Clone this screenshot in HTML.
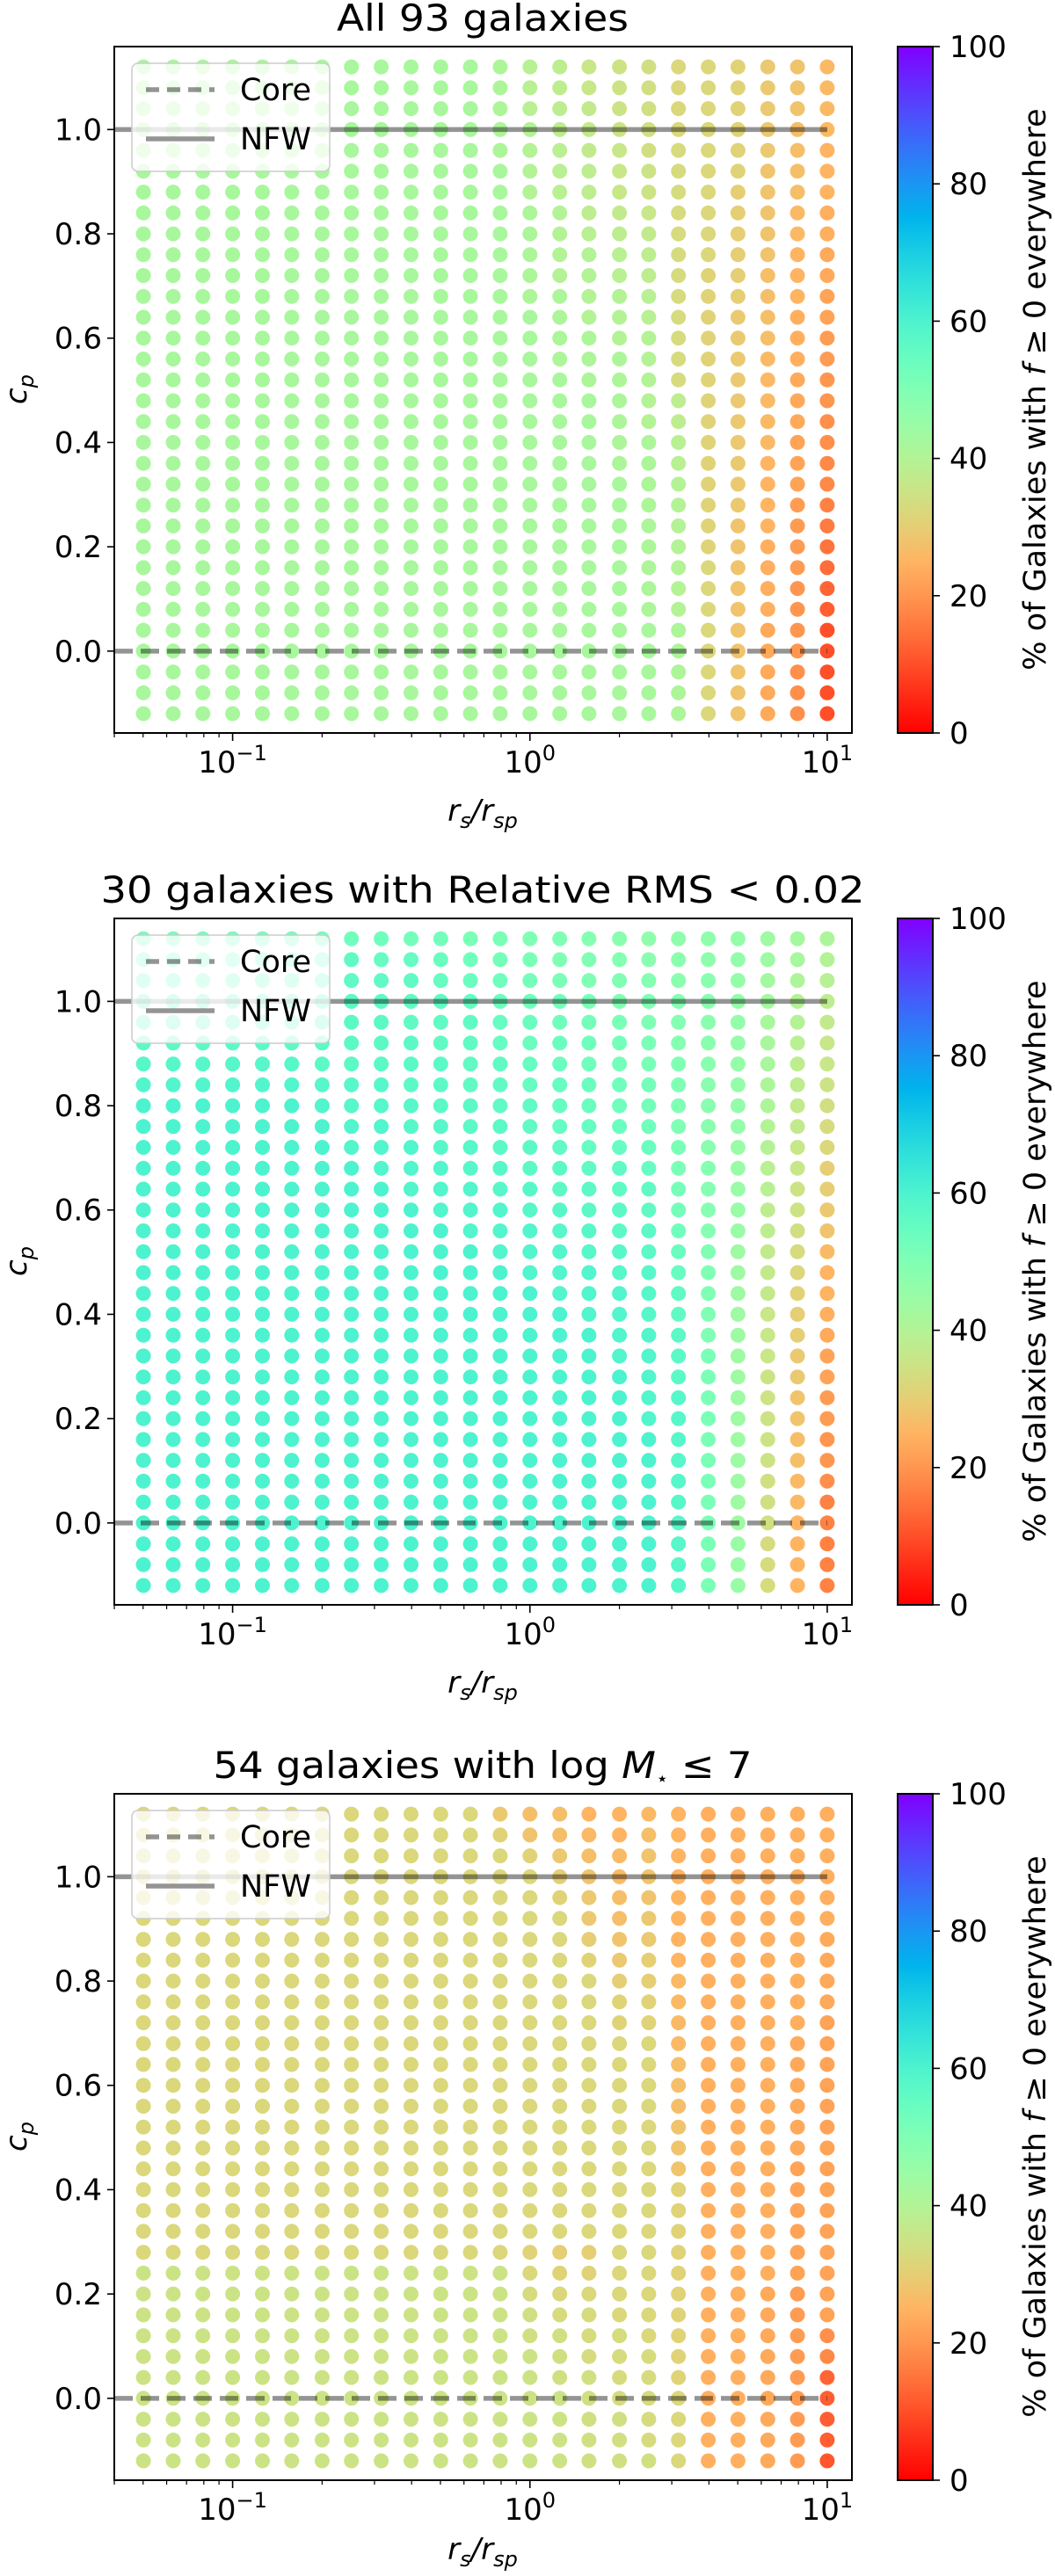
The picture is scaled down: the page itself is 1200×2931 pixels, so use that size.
<!DOCTYPE html>
<html><head><meta charset="utf-8"><style>
html,body{margin:0;padding:0;background:#fff;}
svg{display:block;font-family:"DejaVu Sans","Liberation Sans",sans-serif;}
</style></head><body>
<svg id="fig" width="1200" height="2931" viewBox="0 0 1200 2931" xmlns="http://www.w3.org/2000/svg">
<defs>
<linearGradient id="cbgrad" x1="0" y1="1" x2="0" y2="0"></linearGradient>
</defs>
</svg>
<script>
// ---- data ----
const xValues = [0.0501,0.0631,0.0794,0.1,0.126,0.158,0.2,0.251,0.316,0.398,0.501,0.631,0.794,1.0,1.26,1.58,2.0,2.51,3.16,3.98,5.01,6.31,7.94,10.0];
const cpValues = [1.12,1.08,1.04,1.0,0.96,0.92,0.88,0.84,0.80,0.76,0.72,0.68,0.64,0.60,0.56,0.52,0.48,0.44,0.40,0.36,0.32,0.28,0.24,0.20,0.16,0.12,0.08,0.04,0.0,-0.04,-0.08,-0.12];
const yTicks = [0.0,0.2,0.4,0.6,0.8,1.0];
const yTickLabels = ["0.0","0.2","0.4","0.6","0.8","1.0"];
const xTicks = [0.1,1,10];
const xTickExp = ["\u22121","0","1"];
const cbTicks = [0,20,40,60,80,100];
const titles = ["All 93 galaxies","30 galaxies with Relative  RMS < 0.02","54 galaxies with log M\u22c6 \u2264 7"];

const valsAll = [
[42,42,42,42,42,42,42,42,42,42,42,42,41,39,38,36,35,34,32,32,31,29,28,26],
[42,42,42,42,42,42,42,42,42,42,42,42,41,39,38,36,35,34,32,32,31,29,28,26],
[42,42,42,42,42,42,42,42,42,42,42,42,41,39,38,37,35,34,32,32,31,29,28,26],
[42,42,42,42,42,42,42,42,42,42,42,42,41,40,38,37,35,34,32,32,31,29,27,26],
[42,42,42,42,42,42,42,42,42,42,42,42,41,40,39,37,36,34,33,32,31,29,27,25],
[42,42,42,42,42,42,42,42,42,42,42,42,42,40,39,38,36,35,33,32,31,28,27,25],
[42,42,42,42,42,42,42,42,42,42,42,42,42,40,39,38,36,35,33,32,30,28,27,25],
[42,42,42,42,42,42,42,42,42,42,42,42,42,41,40,38,37,36,33,32,30,28,26,24],
[42,42,42,42,42,42,42,42,42,42,42,42,42,41,40,39,38,37,33,32,30,28,26,24],
[42,42,42,42,42,42,42,42,42,42,42,42,42,41,40,40,39,38,33,32,30,28,25,23],
[42,42,42,42,42,42,42,42,42,42,42,42,42,41,40,40,39,38,33,31,30,27,25,23],
[42,42,42,42,42,42,42,42,42,42,42,42,42,41,41,40,40,39,33,31,30,27,25,22],
[42,42,42,42,42,42,42,42,42,42,42,42,42,42,41,40,40,39,33,31,29,27,24,22],
[42,42,42,42,42,42,42,42,42,42,42,42,42,42,41,41,40,40,33,31,29,27,24,21],
[42,42,42,42,42,42,42,42,42,42,42,42,42,42,41,41,41,40,33,31,29,26,24,21],
[42,42,42,42,42,42,42,42,42,42,42,42,42,42,42,41,41,40,33,31,29,26,23,20],
[42,42,42,42,42,42,42,42,42,42,42,42,42,42,42,42,41,40,38,31,29,26,23,20],
[42,42,42,42,42,42,42,42,42,42,42,42,42,42,42,42,41,40,38,31,29,26,23,19],
[42,42,42,42,42,42,42,42,42,42,42,42,42,42,42,42,41,41,39,31,29,26,22,19],
[42,42,42,42,42,42,42,42,42,42,42,42,42,42,42,42,41,41,39,31,29,25,22,18],
[42,42,42,42,42,42,42,42,42,42,42,42,42,42,42,42,42,41,40,31,29,25,22,18],
[42,42,42,42,42,42,42,42,42,42,42,42,42,42,42,42,42,41,40,31,29,25,21,17],
[42,42,42,42,42,42,42,42,42,42,42,42,42,42,42,42,42,41,40,31,28,25,21,16],
[42,42,42,42,42,42,42,42,42,42,42,42,42,42,42,42,42,41,40,31,28,24,21,15],
[42,42,42,42,42,42,42,42,42,42,42,42,42,42,42,42,42,41,40,32,28,24,21,14],
[42,42,42,42,42,42,42,42,42,42,42,42,42,42,42,42,42,41,40,32,28,24,20,13],
[42,42,42,42,42,42,42,42,42,42,42,42,42,42,42,42,42,41,40,32,28,24,20,12],
[42,42,42,42,42,42,42,42,42,42,42,42,42,42,42,42,42,42,41,32,28,23,20,10],
[42,42,42,42,42,42,42,42,42,42,42,42,42,42,42,42,42,42,41,32,28,23,20,10],
[42,42,42,42,42,42,42,42,42,42,42,42,42,42,42,42,42,42,41,32,28,23,19,10],
[42,42,42,42,42,42,42,42,42,42,42,42,42,42,42,42,42,42,41,32,28,23,19,10],
[42,42,42,42,42,42,42,42,42,42,42,42,42,42,42,42,42,42,41,32,28,23,19,10]
];
const valsRms = [
[52,52,52,52,52,52,52,53,53,52,52,51,51,50,50,49,48,47,47,47,46,44,43,41],
[54,54,54,54,54,54,54,56,55,55,54,53,52,51,50,50,49,48,48,47,46,44,42,40],
[55,55,55,55,55,55,55,56,56,56,55,54,53,52,51,50,50,49,48,48,46,43,41,39],
[56,56,56,56,56,56,56,57,56,56,56,55,54,53,52,51,50,50,49,48,46,43,40,38],
[56,56,56,56,56,56,56,57,57,56,56,56,55,54,53,52,51,50,49,48,46,42,40,37],
[57,57,57,57,57,57,57,57,57,57,56,56,55,54,54,53,52,51,49,48,46,42,39,36],
[58,58,58,58,58,58,57,57,57,57,57,56,56,55,54,53,52,51,50,48,46,42,38,36],
[59,59,59,59,59,59,58,58,58,57,57,56,56,55,55,54,53,52,50,48,46,41,38,35],
[60,60,60,60,60,60,59,58,58,58,57,57,56,56,55,54,53,52,50,48,46,41,37,34],
[60,60,60,60,60,60,60,59,59,58,58,57,57,56,55,55,54,53,50,48,46,40,37,33],
[60,60,60,60,60,60,60,59,59,59,58,58,57,57,56,55,55,54,51,48,45,40,36,32],
[60,60,60,60,60,60,60,60,59,59,59,58,58,57,57,56,56,55,51,49,45,39,36,30],
[60,60,60,60,60,60,60,60,60,59,59,59,58,58,57,57,56,56,52,49,45,39,35,30],
[60,60,60,60,60,60,60,60,60,60,59,59,59,58,58,57,57,56,52,49,45,38,35,29],
[60,60,60,60,60,60,60,60,60,60,60,59,59,59,58,58,57,57,53,49,45,38,34,28],
[60,60,60,60,60,60,60,60,60,60,60,60,59,59,59,58,58,57,54,50,44,37,33,26],
[60,60,60,60,60,60,60,60,60,60,60,60,60,59,59,59,58,58,55,50,44,37,32,25],
[60,60,60,60,60,60,60,60,60,60,60,60,60,60,59,59,59,58,56,50,44,37,31,25],
[60,60,60,60,60,60,60,60,60,60,60,60,60,60,60,59,59,58,56,50,44,36,30,24],
[60,60,60,60,60,60,60,60,60,60,60,60,60,60,60,60,59,59,57,50,44,36,30,23],
[60,60,60,60,60,60,60,60,60,60,60,60,60,60,60,60,59,59,57,51,44,36,29,22],
[60,60,60,60,60,60,60,60,60,60,60,60,60,60,60,60,60,59,57,51,44,35,29,22],
[60,60,60,60,60,60,60,60,60,60,60,60,60,60,60,60,60,59,58,51,44,35,28,21],
[60,60,60,60,60,60,60,60,60,60,60,60,60,60,60,60,60,59,58,51,44,35,28,21],
[60,60,60,60,60,60,60,60,60,60,60,60,60,60,60,60,60,60,58,51,44,35,27,20],
[60,60,60,60,60,60,60,60,60,60,60,60,60,60,60,60,60,60,58,51,44,35,27,20],
[60,60,60,60,60,60,60,60,60,60,60,60,60,60,60,60,60,60,58,51,44,34,26,19],
[60,60,60,60,60,60,60,60,60,60,60,60,60,60,60,60,60,60,58,51,44,34,26,17],
[60,60,60,60,60,60,60,60,60,60,60,60,60,60,60,60,60,60,58,51,44,34,25,17],
[60,60,60,60,60,60,60,60,60,60,60,60,60,60,60,60,60,60,58,51,45,33,25,17],
[60,60,60,60,60,60,60,60,60,60,60,60,60,60,60,60,60,60,58,51,45,33,25,17],
[60,60,60,60,60,60,60,60,60,60,60,60,60,60,60,60,60,60,58,51,45,33,25,17]
];
const valsLowMass = [
[32,32,32,32,32,32,32,32,32,32,32,32,29,27,27,25,25,26,25,24,24,24,24,24],
[32,32,32,32,32,32,32,32,32,32,32,32,31,28,27,26,25,27,25,24,24,24,24,24],
[32,32,32,32,32,32,32,32,32,32,32,32,32,31,29,27,26,28,25,24,24,24,24,24],
[32,32,32,32,32,32,32,32,32,32,32,32,32,32,30,28,26,28,25,24,24,24,24,24],
[32,32,32,32,32,32,32,32,32,32,32,32,32,32,31,29,27,28,25,24,24,24,24,24],
[32,32,32,32,32,32,32,32,32,32,32,32,32,32,32,29,27,29,25,24,24,24,24,24],
[32,32,32,32,32,32,32,32,32,32,32,32,32,32,32,30,28,29,25,24,24,24,24,23],
[32,32,32,32,32,32,32,32,32,32,32,32,32,32,32,31,29,30,25,24,24,24,24,23],
[32,32,32,32,32,32,32,32,32,32,32,32,32,32,32,32,30,30,26,24,24,24,24,23],
[32,32,32,32,32,32,32,32,32,32,32,32,32,32,32,32,31,31,26,24,24,24,24,23],
[32,32,32,32,32,32,32,32,32,32,32,32,32,32,32,32,31,31,26,24,24,24,24,22],
[32,32,32,32,32,32,32,32,32,32,32,32,32,32,32,32,32,32,26,24,24,24,23,22],
[32,32,32,32,32,32,32,32,32,32,32,32,32,32,32,32,32,32,27,24,24,24,23,22],
[32,32,32,32,32,32,32,32,32,32,32,32,32,32,32,32,32,32,27,24,24,24,23,22],
[32,32,32,32,32,32,32,32,32,32,32,32,32,32,32,32,32,32,27,24,24,24,23,22],
[32,32,32,32,32,32,32,32,32,32,32,32,32,32,32,32,32,32,28,24,24,24,23,22],
[32,32,32,32,32,32,32,32,32,32,32,32,32,32,32,32,32,32,28,24,24,24,23,22],
[32,32,32,32,32,32,32,32,32,32,32,32,32,32,32,32,32,32,28,24,24,24,22,22],
[32,32,32,32,32,32,32,32,32,32,32,32,32,32,32,32,32,32,31,24,24,24,22,22],
[32,32,32,32,32,32,32,32,32,32,32,32,32,32,32,32,32,32,31,24,24,24,22,22],
[32,32,32,32,32,32,32,32,32,32,32,32,32,32,32,32,32,32,31,24,24,24,22,22],
[32,32,32,32,32,32,32,32,32,32,32,32,32,31,30,30,32,32,31,24,24,24,22,22],
[35,35,35,35,35,35,35,35,35,35,35,35,35,32,31,31,32,32,31,24,24,24,22,22],
[35,35,35,35,35,35,35,35,35,35,35,35,35,33,32,32,32,32,31,24,24,23,21,22],
[35,35,35,35,35,35,35,35,35,35,35,35,35,34,33,33,32,32,31,24,24,23,21,22],
[35,35,35,35,35,35,35,35,35,35,35,35,35,34,34,33,33,32,31,24,24,23,21,19],
[35,35,35,35,35,35,35,35,35,35,35,35,35,35,34,33,33,33,31,24,24,23,21,18],
[35,35,35,35,35,35,35,35,35,35,35,35,35,35,34,34,33,33,31,24,24,23,21,13],
[35,35,35,35,35,35,35,35,35,35,35,35,35,35,35,34,33,33,32,24,24,23,21,12],
[35,35,35,35,35,35,35,35,35,35,35,35,35,35,35,34,34,33,32,24,24,23,21,12],
[35,35,35,35,35,35,35,35,35,35,35,35,35,35,35,34,34,33,32,24,24,23,21,12],
[35,35,35,35,35,35,35,35,35,35,35,35,35,35,35,34,34,34,32,24,24,23,21,11]
];
const panelValues = [valsAll, valsRms, valsLowMass];
const panelTops = [53, 1045, 2041];

// ---- helpers ----
const NS = "http://www.w3.org/2000/svg";
const svg = document.getElementById("fig");
function mk(tag, attrs, parent) {
  const e = document.createElementNS(NS, tag);
  for (const k in attrs) e.setAttribute(k, attrs[k]);
  (parent || svg).appendChild(e);
  return e;
}
function rainbowR(v) {
  const x = 1 - Math.max(0, Math.min(100, v)) / 100;
  const cl = t => Math.round(255 * Math.max(0, Math.min(1, t)));
  return "rgb(" + cl(Math.abs(2 * x - 0.5)) + "," + cl(Math.sin(Math.PI * x)) + "," + cl(Math.cos(Math.PI * x / 2)) + ")";
}
const grad = document.getElementById("cbgrad");
for (let i = 0; i <= 20; i++) {
  const s = document.createElementNS(NS, "stop");
  s.setAttribute("offset", (i / 20));
  s.setAttribute("stop-color", rainbowR(i * 5));
  grad.appendChild(s);
}

const L = 130, R = 969, H = 781;
const XMINL = -1.398, XMAXL = 1.083, YMIN = -0.157, YMAX = 1.159;
const xScale = v => L + (Math.log10(v) - XMINL) / (XMAXL - XMINL) * (R - L);
const titleWidths = [332, 869, 613];

panelValues.forEach((vals, p) => {
  const T = panelTops[p], B = T + H;
  const yScale = c => T + (YMAX - c) / (YMAX - YMIN) * H;
  const g = mk("g", {});
  
  

  const tt = mk("text", {x: 549, y: T - 18, "font-size": 42, "text-anchor": "middle", textLength: titleWidths[p], lengthAdjust: "spacingAndGlyphs"}, g);
  
  
  if (p === 2) {
    tt.innerHTML = '54 galaxies with log <tspan font-style="italic">M</tspan><tspan font-size="22" dy="8">\u22c6</tspan><tspan dy="-8"> \u2264 7</tspan>';
  } else {
    tt.textContent = titles[p];
  }

  const dg = mk("g", {}, g);
  
  
  cpValues.forEach((cp, r) => {
    xValues.forEach((xv, c) => {
      const d = mk("circle", {cx: xScale(xv).toFixed(1), cy: yScale(cp).toFixed(1), r: 8.5, fill: rainbowR(vals[r][c])}, dg);
      
      
    });
  });

  const nfw = mk("line", {x1: L, x2: xScale(10), y1: yScale(1), y2: yScale(1), stroke: "#000", "stroke-opacity": 0.42, "stroke-width": 5.5}, g);
  
  
  const core = mk("line", {x1: L, x2: xScale(10), y1: yScale(0), y2: yScale(0), stroke: "#000", "stroke-opacity": 0.42, "stroke-width": 5.5, "stroke-dasharray": "21 9"}, g);
  
  

  const fr = mk("rect", {x: L, y: T, width: R - L, height: H, fill: "none", stroke: "#000", "stroke-width": 2}, g);
  
  

  yTicks.forEach((v, i) => {
    const y = yScale(v);
    mk("line", {x1: L - 8, x2: L, y1: y, y2: y, stroke: "#000", "stroke-width": 1.6}, g);
    const lb = mk("text", {x: L - 14, y: y + 12, "font-size": 34, "text-anchor": "end"}, g);
    
    
    lb.textContent = yTickLabels[i];
  });
  [0.01, 0.1, 1].forEach(dec => {
    for (let m = 2; m <= 9; m++) {
      const v = dec * m;
      const lv = Math.log10(v);
      if (lv < XMINL || lv > XMAXL) continue;
      const x = xScale(v);
      mk("line", {x1: x, x2: x, y1: B, y2: B + 5, stroke: "#000", "stroke-width": 1.2}, g);
    }
  });
  xTicks.forEach((v, i) => {
    const x = xScale(v);
    mk("line", {x1: x, x2: x, y1: B, y2: B + 9, stroke: "#000", "stroke-width": 1.6}, g);
    const lb = mk("text", {x: x, y: B + 45, "font-size": 34, "text-anchor": "middle"}, g);
    
    
    lb.innerHTML = '10<tspan font-size="24" dy="-14">' + xTickExp[i] + '</tspan>';
  });

  const xl = mk("text", {x: 549, y: B + (p === 2 ? 90 : 100), "font-size": 34, "text-anchor": "middle", "font-style": "italic"}, g);
  
  
  xl.innerHTML = 'r<tspan font-size="24" dy="8">s</tspan><tspan dy="-8">/r</tspan><tspan font-size="24" dy="8">sp</tspan>';
  const yl = mk("text", {x: 0, y: 0, "font-size": 34, "text-anchor": "middle", "font-style": "italic", transform: "translate(30," + (T + 390) + ") rotate(-90)"}, g);
  
  
  yl.innerHTML = 'c<tspan font-size="24" dy="8">p</tspan>';

  const lg = mk("g", {}, g);
  
  
  mk("rect", {x: 150, y: T + 19, width: 225, height: 123, rx: 7, fill: "#fff", "fill-opacity": 0.8, stroke: "#ccc", "stroke-width": 1.5}, lg);
  mk("line", {x1: 166, x2: 244, y1: T + 49, y2: T + 49, stroke: "#000", "stroke-opacity": 0.42, "stroke-width": 5.5, "stroke-dasharray": "15 9"}, lg);
  mk("line", {x1: 166, x2: 244, y1: T + 105, y2: T + 105, stroke: "#000", "stroke-opacity": 0.42, "stroke-width": 5.5}, lg);
  const le1 = mk("text", {x: 273, y: T + 61, "font-size": 35}, lg);
  
  
  le1.textContent = "Core";
  const le2 = mk("text", {x: 273, y: T + 117, "font-size": 35}, lg);
  
  
  le2.textContent = "NFW";

  const cb = mk("g", {}, g);
  
  
  mk("rect", {x: 1021, y: T, width: 40, height: H, fill: "url(#cbgrad)", stroke: "#000", "stroke-width": 2}, cb);
  cbTicks.forEach(v => {
    const y = B - v / 100 * H;
    mk("line", {x1: 1061, x2: 1069, y1: y, y2: y, stroke: "#000", "stroke-width": 1.6}, cb);
    const lb = mk("text", {x: 1080, y: y + 12, "font-size": 34}, cb);
    
    
    lb.textContent = String(v);
  });
  const cl = mk("text", {x: 0, y: 0, "font-size": 35, "text-anchor": "middle", transform: "translate(1189," + (T + 390) + ") rotate(-90)"}, cb);
  
  
  cl.innerHTML = '% of Galaxies with <tspan font-style="italic">f</tspan> \u2265 0 everywhere';
});
</script>
</body></html>
